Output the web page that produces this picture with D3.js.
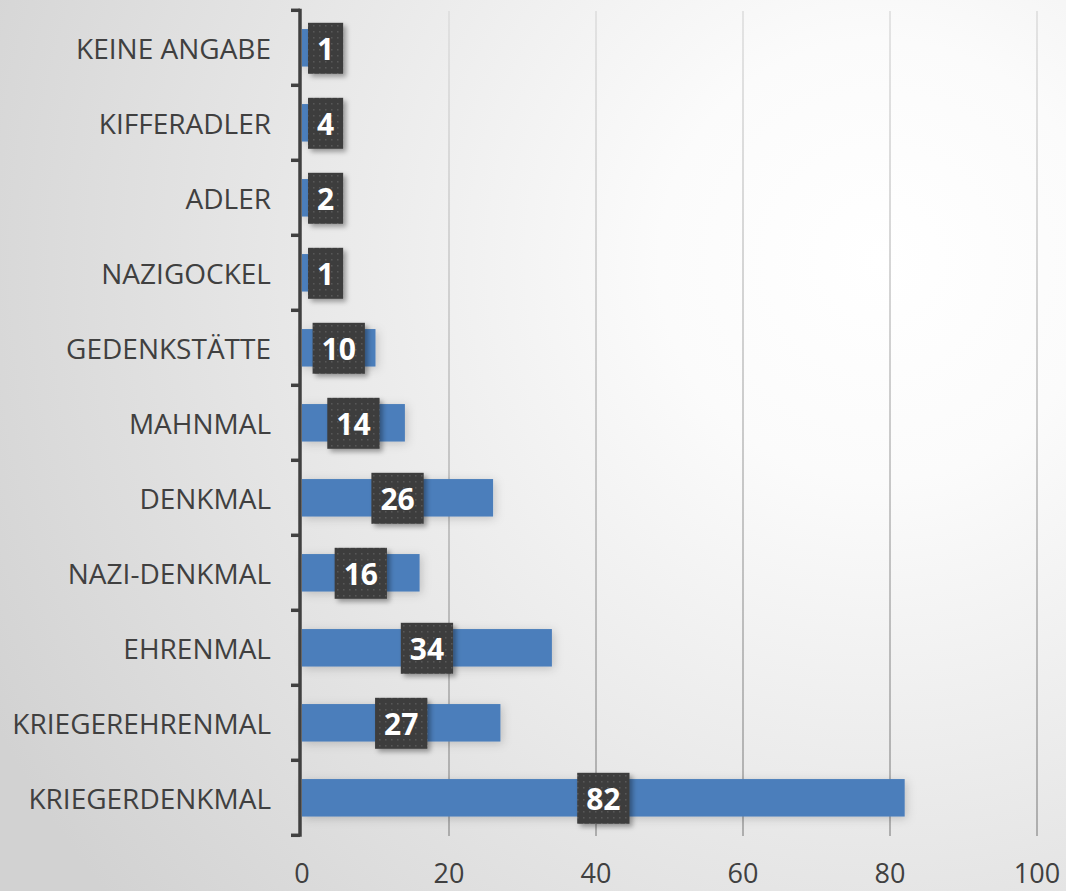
<!DOCTYPE html>
<html><head><meta charset="utf-8">
<script src="https://cdn.jsdelivr.net/npm/d3@7"></script>
<style>html,body{margin:0;padding:0;background:#fff;}svg{display:block;}</style>
</head><body>
<svg id="chart" width="1066" height="891"></svg>
<script>
const categories = ["KEINE ANGABE","KIFFERADLER","ADLER","NAZIGOCKEL","GEDENKSTÄTTE","MAHNMAL","DENKMAL","NAZI-DENKMAL","EHRENMAL","KRIEGEREHRENMAL","KRIEGERDENKMAL"];
const values = [1,4,2,1,10,14,26,16,34,27,82];
const xTicks = [0,20,40,60,80,100];

const W = 1066, H = 891;
const svg = d3.select("#chart");
const defs = svg.append("defs");

const bg = defs.append("radialGradient").attr("id","bg").attr("gradientUnits","userSpaceOnUse")
  .attr("cx",880).attr("cy",260).attr("r",1000);
bg.append("stop").attr("offset","0%").attr("stop-color","#ffffff");
bg.append("stop").attr("offset","22%").attr("stop-color","#fbfbfb");
bg.append("stop").attr("offset","100%").attr("stop-color","#d2d2d2");
svg.append("rect").attr("width",W).attr("height",H).attr("fill","url(#bg)");

const gridG = defs.append("linearGradient").attr("id","gridG").attr("gradientUnits","userSpaceOnUse")
  .attr("x1",0).attr("y1",10).attr("x2",0).attr("y2",836);
gridG.append("stop").attr("offset","0%").attr("stop-color","#dcdcdc");
gridG.append("stop").attr("offset","100%").attr("stop-color","#9a9a9a");

const pat = defs.append("pattern").attr("id","dots").attr("patternUnits","userSpaceOnUse")
  .attr("width",6).attr("height",6);
pat.append("rect").attr("width",6).attr("height",6).attr("fill","#3d3d3d");
pat.append("rect").attr("x",1).attr("y",1).attr("width",1.5).attr("height",1.5).attr("fill","#585858");

const fBar = defs.append("filter").attr("id","barShadow").attr("x","-10%").attr("y","-50%").attr("width","130%").attr("height","200%");
fBar.append("feDropShadow").attr("dx",2).attr("dy",2).attr("stdDeviation",5).attr("flood-color","#000").attr("flood-opacity",0.18);
const fBox = defs.append("filter").attr("id","boxShadow").attr("x","-30%").attr("y","-30%").attr("width","170%").attr("height","170%");
fBox.append("feDropShadow").attr("dx",3).attr("dy",3).attr("stdDeviation",2.5).attr("flood-color","#000").attr("flood-opacity",0.35);

const x = d3.scaleLinear().domain([0,100]).range([302,1037]);
const y = d3.scaleBand().domain(categories).range([10.3,835.3]).paddingInner(0.5).paddingOuter(0.25);

// gridlines
svg.append("g").selectAll("line").data(xTicks.slice(1)).join("line")
  .attr("x1",d=>x(d)).attr("x2",d=>x(d)).attr("y1",11).attr("y2",836)
  .attr("stroke","url(#gridG)").attr("stroke-width",1.5);

// bars
svg.append("g").selectAll("rect").data(values).join("rect")
  .attr("x",x(0)).attr("y",(d,i)=>y(categories[i]))
  .attr("width",d=>x(d)-x(0)).attr("height",y.bandwidth())
  .attr("fill","#4c7ebb").attr("filter","url(#barShadow)");

// y axis
const yTop = y.range()[0], yBot = y.range()[1];
const step = y.step();
const bounds = d3.range(categories.length+1).map(i=>yTop + i*step);
const axG = svg.append("g").attr("stroke","#404040");
axG.append("line").attr("x1",300).attr("x2",300).attr("y1",yTop-1.5).attr("y2",yBot+1.5).attr("stroke-width",3.5);
axG.selectAll("line.t").data(bounds).join("line").attr("class","t")
  .attr("x1",291).attr("x2",300).attr("y1",d=>d).attr("y2",d=>d).attr("stroke-width",3.5);

// category labels
svg.append("g").selectAll("text").data(categories).join("text")
  .attr("x",271).attr("y",d=>y(d)+y.bandwidth()/2)
  .attr("text-anchor","end").attr("dominant-baseline","central")
  .attr("font-family","'Open Sans', sans-serif").attr("font-size",28)
  .attr("fill","#404040").text(d=>d);

// x tick labels
svg.append("g").selectAll("text").data(xTicks).join("text")
  .attr("x",d=>x(d)).attr("y",883).attr("text-anchor","middle")
  .attr("font-family","'Open Sans', sans-serif").attr("font-size",27)
  .attr("fill","#404040").text(d=>d);

// data labels
const lblG = svg.append("g");
values.forEach((v,i)=>{
  const g = lblG.append("g");
  const cy = y(categories[i]) + y.bandwidth()/2;
  const t = g.append("text").attr("font-family","'Open Sans', sans-serif").attr("font-weight","bold")
    .attr("font-size",30).attr("fill","#fff").attr("text-anchor","middle").attr("dominant-baseline","central").text(v);
  const tw = t.node().getComputedTextLength();
  const bw = tw + 18, bh = 51;
  let cx = (x(0)+x(v))/2;
  let left = Math.max(cx - bw/2, 308);
  cx = left + bw/2;
  g.insert("rect","text").attr("x",left).attr("y",cy-bh/2+0.5).attr("width",bw).attr("height",bh)
    .attr("fill","url(#dots)").attr("filter","url(#boxShadow)");
  t.attr("x",cx).attr("y",cy+1);
});
</script>
</body></html>
